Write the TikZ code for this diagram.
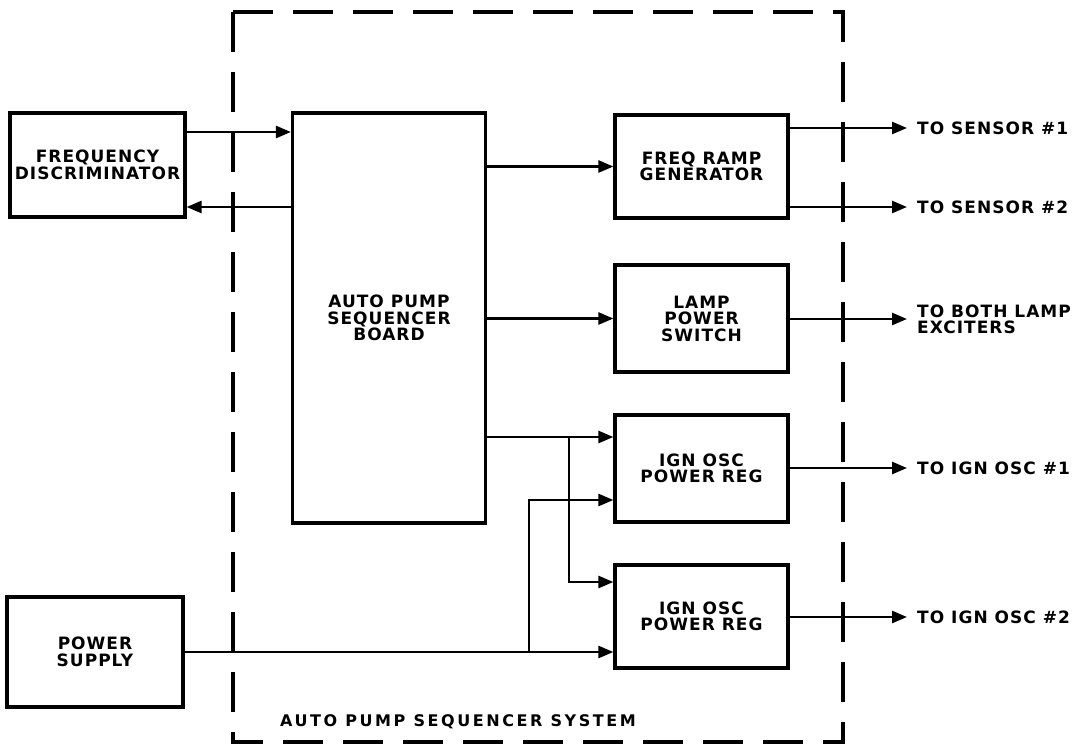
\documentclass[tikz,border=0pt]{standalone}
\usepackage{fontspec}
\newfontfamily\lettering{DejaVu Sans}[LetterSpace=6]
\newfontfamily\widelettering{DejaVu Sans}[LetterSpace=16]
\usetikzlibrary{arrows.meta}

\tikzset{
  block/.style={draw, line width=3.2pt, minimum width=173pt, align=center, inner sep=0pt,
    font=\lettering\bfseries\fontsize{17}{16.5}\selectfont},
  tag/.style={anchor=west, inner sep=0pt, align=left,
    font=\lettering\bfseries\fontsize{17}{16}\selectfont},
  sysframe/.style={draw, line width=3.4pt, dash pattern=on 40pt off 20pt},
  wire/.style={line width=2.6pt},
}

\begin{document}
\begin{tikzpicture}[x=1pt, y=-1pt, >={Triangle[length=15pt,width=12pt]}]
    \useasboundingbox (0,0) rectangle (1085,745);

    % system frame
    \draw[sysframe] (233,12) rectangle (843,742);
    \node[anchor=west, inner sep=0pt, font=\widelettering\bfseries\fontsize{16}{16}\selectfont] (system) at (280,722) {AUTO PUMP SEQUENCER SYSTEM};

    % blocks
    \node[block, minimum width=175pt, minimum height=104pt] (disc) at (97.5,165) {FREQUENCY\\DISCRIMINATOR};
    \node[block, minimum width=176pt, minimum height=110pt] (supply) at (95,652) {POWER\\SUPPLY};
    \node[block, minimum width=193pt, minimum height=410pt] (board) at (389,318) {AUTO PUMP\\SEQUENCER\\BOARD};
    \node[block, minimum height=103pt] (ramp) at (701.5,166.5) {FREQ RAMP\\GENERATOR};
    \node[block, minimum height=107pt] (lamp) at (701.5,318.5) {LAMP\\POWER\\SWITCH};
    \node[block, minimum height=107pt] (ign1) at (701.5,468.5) {IGN OSC\\POWER REG};
    \node[block, minimum height=103pt] (ign2) at (701.5,616.5) {IGN OSC\\POWER REG};

    % outputs
    \node[tag] (sens1) at (917,128) {TO SENSOR \#1};
    \node[tag] (sens2) at (917,207) {TO SENSOR \#2};
    \node[tag] (lampout) at (917,319) {TO BOTH LAMP\\EXCITERS};
    \node[tag] (osc1) at (917,468) {TO IGN OSC \#1};
    \node[tag] (osc2) at (917,617) {TO IGN OSC \#2};

    % discriminator <-> board
    \draw[wire,->] ([yshift=33pt]disc.east) -- ([yshift=33pt]disc.east -| board.west);
    \draw[wire,->] ([yshift=-42pt]disc.east -| board.west) -- ([yshift=-42pt]disc.east);

    % board to right blocks
    \draw[wire,->] (board.east |- ramp.west) -- (ramp.west);
    \draw[wire,->] (board.east |- lamp.west) -- (lamp.west);
    \draw[wire,->] ([yshift=31.5pt]ign1.west -| board.east) -- ([yshift=31.5pt]ign1.west);
    \coordinate (tapA) at (569,437);
    \draw[wire,->] (tapA) |- ([yshift=34.5pt]ign2.west);

    % power supply
    \draw[wire,->] (supply.east) -- (supply.east -| ign2.west);
    \coordinate (tapB) at (529,652);
    \draw[wire,->] (tapB) |- ([yshift=-31.5pt]ign1.west);

    % to the sensors and oscillators
    \draw[wire,->] (ramp.east |- sens1.west) -- ([xshift=-10pt]sens1.west);
    \draw[wire,->] (ramp.east |- sens2.west) -- ([xshift=-10pt]sens2.west);
    \draw[wire,->] (lamp.east |- lampout.west) -- ([xshift=-10pt]lampout.west);
    \draw[wire,->] (ign1.east |- osc1.west) -- ([xshift=-10pt]osc1.west);
    \draw[wire,->] (ign2.east |- osc2.west) -- ([xshift=-10pt]osc2.west);
\end{tikzpicture}
\end{document}
